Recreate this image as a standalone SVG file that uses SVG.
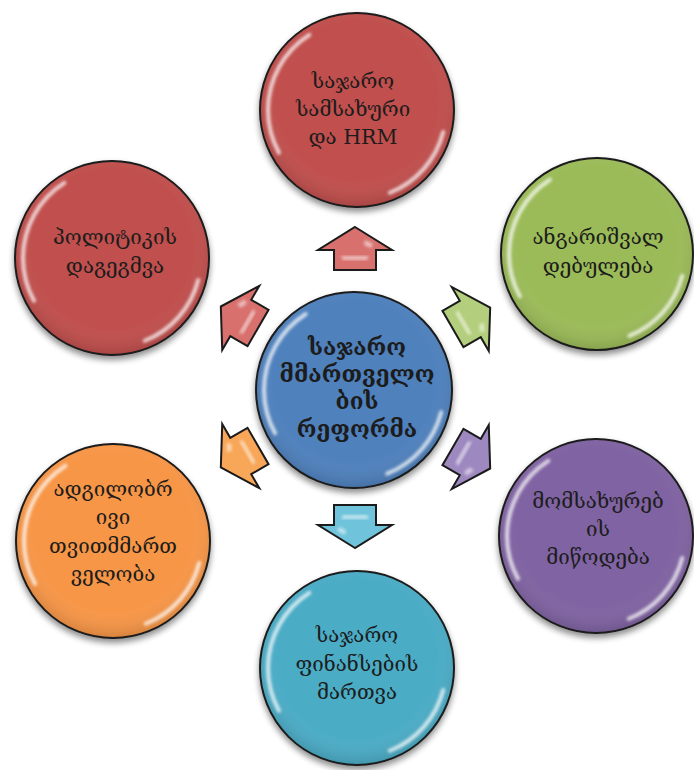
<svg xmlns="http://www.w3.org/2000/svg" width="694" height="770" viewBox="0 0 694 770">
<defs>
  <filter id="shadow" x="-20%" y="-20%" width="140%" height="150%">
    <feGaussianBlur in="SourceAlpha" stdDeviation="3"/>
    <feOffset dx="0" dy="4" result="b"/>
    <feComponentTransfer><feFuncA type="linear" slope="0.45"/></feComponentTransfer>
    <feMerge><feMergeNode/><feMergeNode in="SourceGraphic"/></feMerge>
  </filter>
  <filter id="soft" x="-20%" y="-20%" width="140%" height="140%">
    <feGaussianBlur stdDeviation="1.6"/>
  </filter>
  <radialGradient id="sheen" cx="50%" cy="45%" r="55%">
    <stop offset="0.75" stop-color="#fff" stop-opacity="0"/>
    <stop offset="1" stop-color="#000" stop-opacity="0.12"/>
  </radialGradient>
  <path id="arrow" d="M0,-21 L37,2 L21,2 L21,22 L-21,22 L-21,2 L-37,2 Z"/>
</defs>
<style>
  .disc { stroke: #1b1b1b; stroke-width: 2; }
  .rim { fill: url(#sheen); }
  .hl { fill: none; stroke: #ffffff; stroke-width: 4; stroke-linecap: round; opacity: 0.75; filter: url(#soft); }
  .hl1 { stroke-dasharray: 24 76; stroke-dashoffset: -42; }
  .hl2 { stroke-dasharray: 15 85; stroke-dashoffset: -4; }
  .lbl { font-family: "DejaVu Serif", "DejaVu Sans", serif; font-size: 20.5px; fill: #1c1c1c; text-anchor: middle; }
  .ctr { font-size: 22.5px; font-weight: bold; }
  .arr { stroke: #1b1b1b; stroke-width: 2; stroke-linejoin: miter; }
  .gloss { fill: #ffffff; opacity: 0.55; filter: url(#soft); }
  .red { fill: #C0504D; }
  .green { fill: #9BBB59; }
  .purple { fill: #8064A2; }
  .cyan { fill: #4BACC6; }
  .orange { fill: #F79646; }
  .blue { fill: #4F81BD; }
  .ared { fill: #D8716E; }
  .agreen { fill: #B3CE7C; }
  .apurple { fill: #9E88C0; }
  .acyan { fill: #6FC3DA; }
  .aorange { fill: #F8A657; }
</style>

<g id="connectors">
  <g transform="translate(355,248)"><use href="#arrow" class="arr ared"/><path class="gloss" d="M-14,8 L14,8 L12,12 L-12,12 Z"/><path class="gloss" d="M10,-8 L18,-4 L16,0 L9,-3 Z"/></g>
  <g transform="translate(472,318) rotate(60)"><use href="#arrow" class="arr agreen"/><path class="gloss" d="M-14,8 L14,8 L12,12 L-12,12 Z"/><path class="gloss" d="M10,-8 L18,-4 L16,0 L9,-3 Z"/></g>
  <g transform="translate(472,458) rotate(120)"><use href="#arrow" class="arr apurple"/><path class="gloss" d="M-14,8 L14,8 L12,12 L-12,12 Z"/><path class="gloss" d="M10,-8 L18,-4 L16,0 L9,-3 Z"/></g>
  <g transform="translate(355,527) rotate(180)"><use href="#arrow" class="arr acyan"/><path class="gloss" d="M-14,8 L14,8 L12,12 L-12,12 Z"/><path class="gloss" d="M10,-8 L18,-4 L16,0 L9,-3 Z"/></g>
  <g transform="translate(239,457) rotate(240)"><use href="#arrow" class="arr aorange"/><path class="gloss" d="M-14,8 L14,8 L12,12 L-12,12 Z"/><path class="gloss" d="M10,-8 L18,-4 L16,0 L9,-3 Z"/></g>
  <g transform="translate(239,317) rotate(300)"><use href="#arrow" class="arr ared"/><path class="gloss" d="M-14,8 L14,8 L12,12 L-12,12 Z"/><path class="gloss" d="M10,-8 L18,-4 L16,0 L9,-3 Z"/></g>
</g>

<g id="node-center" transform="translate(354,390)">
  <circle r="98" class="disc blue" filter="url(#shadow)"/>
  <circle r="97" class="rim"/>
  <circle r="90" pathLength="100" class="hl hl1"/>
  <circle r="90" pathLength="100" class="hl hl2"/>
  <text class="lbl ctr" x="3" y="-35">საჯარო</text>
  <text class="lbl ctr" x="3" y="-8">მმართველო</text>
  <text class="lbl ctr" x="3" y="19">ბის</text>
  <text class="lbl ctr" x="3" y="47">რეფორმა</text>
</g>

<g id="node-top" transform="translate(357,110)">
  <circle r="97" class="disc red" filter="url(#shadow)"/>
  <circle r="96" class="rim"/>
  <circle r="89" pathLength="100" class="hl hl1"/>
  <circle r="89" pathLength="100" class="hl hl2"/>
  <text class="lbl" x="-4" y="-22">საჯარო</text>
  <text class="lbl" x="-4" y="6">სამსახური</text>
  <text class="lbl" x="-4" y="34">და HRM</text>
</g>

<g id="node-upper-left" transform="translate(112,258)">
  <circle r="97" class="disc red" filter="url(#shadow)"/>
  <circle r="96" class="rim"/>
  <circle r="89" pathLength="100" class="hl hl1"/>
  <circle r="89" pathLength="100" class="hl hl2"/>
  <text class="lbl" x="3" y="-14">პოლიტიკის</text>
  <text class="lbl" x="3" y="15">დაგეგმვა</text>
</g>

<g id="node-upper-right" transform="translate(597,254)">
  <circle r="96" class="disc green" filter="url(#shadow)"/>
  <circle r="95" class="rim"/>
  <circle r="88" pathLength="100" class="hl hl1"/>
  <circle r="88" pathLength="100" class="hl hl2"/>
  <text class="lbl" x="1" y="-10">ანგარიშვალ</text>
  <text class="lbl" x="1" y="19">დებულება</text>
</g>

<g id="node-lower-right" transform="translate(596,536)">
  <circle r="97" class="disc purple" filter="url(#shadow)"/>
  <circle r="96" class="rim"/>
  <circle r="89" pathLength="100" class="hl hl1"/>
  <circle r="89" pathLength="100" class="hl hl2"/>
  <text class="lbl" x="2" y="-28">მომსახურებ</text>
  <text class="lbl" x="2" y="0">ის</text>
  <text class="lbl" x="2" y="28">მიწოდება</text>
</g>

<g id="node-bottom" transform="translate(357,668)">
  <circle r="97" class="disc cyan" filter="url(#shadow)"/>
  <circle r="96" class="rim"/>
  <circle r="89" pathLength="100" class="hl hl1"/>
  <circle r="89" pathLength="100" class="hl hl2"/>
  <text class="lbl" x="0" y="-26">საჯარო</text>
  <text class="lbl" x="0" y="3">ფინანსების</text>
  <text class="lbl" x="0" y="31">მართვა</text>
</g>

<g id="node-lower-left" transform="translate(113,541)">
  <circle r="97" class="disc orange" filter="url(#shadow)"/>
  <circle r="96" class="rim"/>
  <circle r="89" pathLength="100" class="hl hl1"/>
  <circle r="89" pathLength="100" class="hl hl2"/>
  <text class="lbl" x="0" y="-45">ადგილობრ</text>
  <text class="lbl" x="0" y="-17">ივი</text>
  <text class="lbl" x="0" y="12">თვითმმართ</text>
  <text class="lbl" x="0" y="40">ველობა</text>
</g>
</svg>
